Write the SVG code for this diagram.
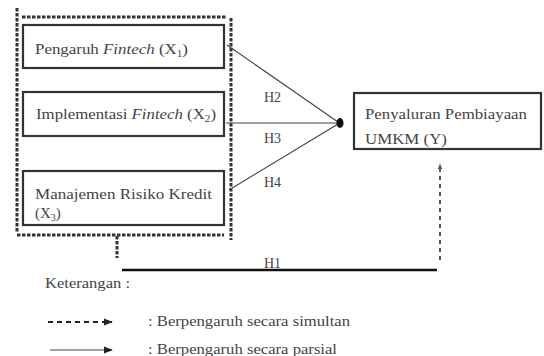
<svg xmlns="http://www.w3.org/2000/svg" width="544" height="356" viewBox="0 0 544 356" font-family="'Liberation Serif', 'DejaVu Serif', serif">
<style>
text{font-family:'Liberation Serif','DejaVu Serif',serif;fill:#444;}
.lbl{font-size:15px;}
.h{font-size:14px;}
.leg{font-size:14px;}
.box{fill:#fff;stroke:#333;stroke-width:2.2;}
.frame{fill:none;stroke:#333;stroke-width:3;stroke-dasharray:3.5,1.5;}
.ln{fill:none;stroke:#444;stroke-width:1.2;}
.dash{fill:none;stroke:#555;stroke-width:2;stroke-dasharray:4,4;}
</style>
<defs>
<marker id="ah" viewBox="0 0 10 10" refX="9" refY="5" markerWidth="9" markerHeight="9" markerUnits="userSpaceOnUse" orient="auto">
<path d="M0,1 L10,5 L0,9 z" fill="#222"/>
</marker>
<marker id="ahs" viewBox="0 0 10 10" refX="9" refY="5" markerWidth="6" markerHeight="6" markerUnits="userSpaceOnUse" orient="auto">
<path d="M0,1 L10,5 L0,9 z" fill="#555"/>
</marker>
</defs>
<g id="frame">
<line class="frame" x1="17" y1="8" x2="17" y2="233"/>
<line class="frame" x1="22" y1="17" x2="226" y2="17"/>
<line class="frame" x1="231" y1="18" x2="231" y2="240"/>
<line class="frame" x1="17" y1="235" x2="224" y2="235"/>
</g>
<g id="connectors">
<line class="ln" x1="227" y1="45" x2="338" y2="122"/>
<line class="ln" x1="226" y1="123" x2="338" y2="123"/>
<line class="ln" x1="229" y1="190" x2="338" y2="124"/>
<ellipse cx="340" cy="123" rx="3.5" ry="5" fill="#111"/>
<line class="frame" x1="117" y1="236" x2="117" y2="258"/>
<line x1="122" y1="270" x2="437" y2="270" stroke="#111" stroke-width="2.5"/>
<line class="dash" x1="440" y1="260" x2="440" y2="164" marker-end="url(#ahs)"/>
<text class="h" x="264" y="102">H2</text>
<text class="h" x="264" y="143">H3</text>
<text class="h" x="264" y="187">H4</text>
<text class="h" x="264" y="268">H1</text>
</g>
<g id="x1">
<rect class="box" x="23" y="25" width="201" height="43"/>
<text class="lbl" x="35" y="54" textLength="153" lengthAdjust="spacingAndGlyphs">Pengaruh <tspan font-style="italic">Fintech</tspan> (X<tspan font-size="10" dy="3">1</tspan><tspan dy="-3">)</tspan></text>
</g>
<g id="x2">
<rect class="box" x="23" y="92" width="201" height="44"/>
<text class="lbl" x="36" y="119" textLength="180" lengthAdjust="spacingAndGlyphs">Implementasi <tspan font-style="italic">Fintech</tspan> (X<tspan font-size="10" dy="3">2</tspan><tspan dy="-3">)</tspan></text>
</g>
<g id="x3">
<rect class="box" x="23" y="171" width="201" height="54"/>
<text class="lbl" x="35" y="199" textLength="177" lengthAdjust="spacingAndGlyphs">Manajemen Risiko Kredit</text>
<text class="lbl" x="35" y="218">(X<tspan font-size="10" dy="3">3</tspan><tspan dy="-3">)</tspan></text>
</g>
<g id="y">
<rect class="box" x="354" y="93" width="187" height="56"/>
<text class="lbl" x="365" y="119" textLength="162" lengthAdjust="spacingAndGlyphs">Penyaluran Pembiayaan</text>
<text class="lbl" x="365" y="144" textLength="82" lengthAdjust="spacingAndGlyphs">UMKM (Y)</text>
</g>
<g id="legend">
<text class="leg" x="45" y="288" textLength="85" lengthAdjust="spacingAndGlyphs">Keterangan :</text>
<line x1="48" y1="322" x2="112" y2="322" stroke="#222" stroke-width="2" stroke-dasharray="5,4" marker-end="url(#ah)"/>
<text class="leg" x="148" y="326" textLength="202" lengthAdjust="spacingAndGlyphs">: Berpengaruh secara simultan</text>
<line x1="50" y1="350" x2="112" y2="350" stroke="#444" stroke-width="1.2" marker-end="url(#ah)"/>
<text class="leg" x="148" y="354" textLength="189" lengthAdjust="spacingAndGlyphs">: Berpengaruh secara parsial</text>
</g>
</svg>
